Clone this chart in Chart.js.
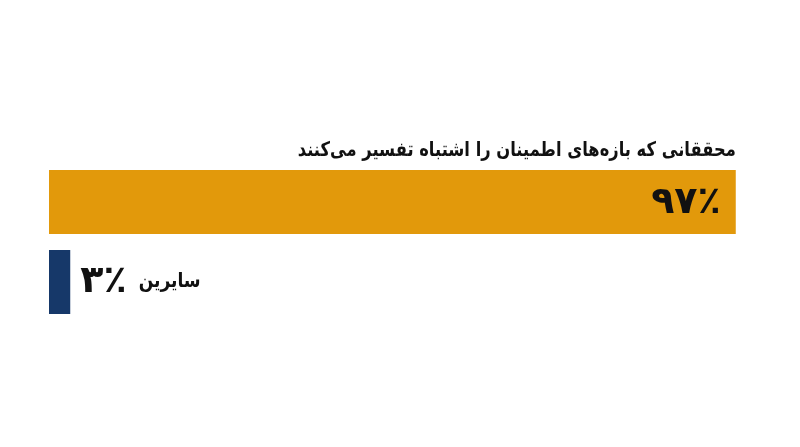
<!DOCTYPE html>
<html lang="fa">
<head>
<meta charset="utf-8">
<script src="https://cdn.jsdelivr.net/npm/chart.js@4"></script>
<style>
  html, body { margin: 0; padding: 0; background: #fff; }
  canvas { display: block; }
</style>
</head>
<body>
<canvas id="chart" width="800" height="447"></canvas>
<script>
const categories = ['محققانی که بازه\u200Cهای اطمینان را اشتباه تفسیر می\u200Cکنند', 'سایرین'];
const values = [97, 3];
const valueLabels = ['۹۷٪', '۳٪'];
const barColors = ['#E2990B', '#163869'];

const labelPlugin = {
    id: 'barLabels',
    afterDatasetsDraw(chart) {
        const ctx = chart.ctx;
        const bars = chart.getDatasetMeta(0).data;
        ctx.save();
        ctx.direction = 'rtl';
        ctx.fillStyle = '#111';
        ctx.textBaseline = 'middle';

        // first bar: name above, value inside at the right end
        let b = bars[0];
        ctx.font = 'bold 20px "DejaVu Sans"';
        ctx.textAlign = 'right';
        ctx.fillText(categories[0], b.x, b.y - b.height / 2 - 19, 438);
        ctx.font = 'bold 38px "DejaVu Sans"';
        ctx.fillText(valueLabels[0], b.x - 15, b.y + 1);

        // second bar: value and name to the right of the bar
        b = bars[1];
        ctx.font = 'bold 38px "DejaVu Sans"';
        ctx.textAlign = 'left';
        ctx.direction = 'ltr';
        ctx.fillText(valueLabels[1], b.x + 10, b.y);
        const w = ctx.measureText(valueLabels[1]).width;
        ctx.font = 'bold 20px "DejaVu Sans"';
        ctx.fillText(categories[1], b.x + 10 + w + 12, b.y, 62);
        ctx.restore();
    }
};

new Chart(document.getElementById('chart').getContext('2d'), {
    type: 'bar',
    data: {
        labels: categories,
        datasets: [{
            data: values,
            backgroundColor: barColors,
            borderWidth: 0,
            barPercentage: 0.8,
            categoryPercentage: 1
        }]
    },
    options: {
        indexAxis: 'y',
        responsive: false,
        animation: false,
        layout: { padding: { left: 49, right: 43, top: 162, bottom: 125 } },
        scales: {
            x: { min: 0, max: 100, display: false },
            y: { display: false }
        },
        plugins: {
            legend: { display: false },
            tooltip: { enabled: false }
        }
    },
    plugins: [labelPlugin]
});
</script>
</body>
</html>
